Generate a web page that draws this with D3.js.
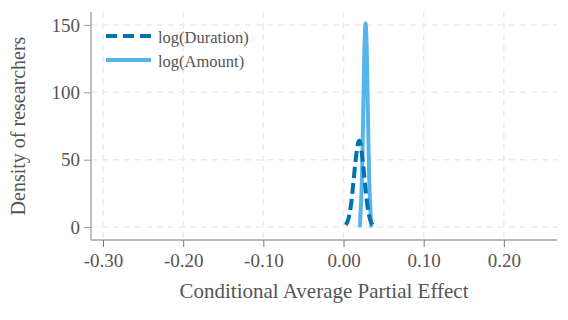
<!DOCTYPE html>
<html>
<head>
<meta charset="utf-8">
<script src="https://cdn.jsdelivr.net/npm/d3@7"></script>
<style>
  body { margin: 0; background: #fff; }
  text { font-family: "Liberation Serif", serif; fill: #555; }
</style>
</head>
<body>
<svg id="chart" width="568" height="320"></svg>
<script>
// density estimates
var durX = [0.003, 0.006, 0.009, 0.012, 0.015, 0.018, 0.0195, 0.021, 0.024, 0.027, 0.030, 0.033, 0.036];
var durY = [1.5, 6, 15, 31, 49, 62, 64, 62, 49, 31, 15, 6, 1.5];
var amtX = [0.0205, 0.0215, 0.0230, 0.0245, 0.0260, 0.0275, 0.0290, 0.0305, 0.0320, 0.0335, 0.0345];
var amtY = [1, 13, 37, 82, 130, 151, 130, 82, 37, 13, 1];
var xTicks = [-0.3, -0.2, -0.1, 0, 0.1, 0.2];
var yTicks = [0, 50, 100, 150];
var seriesNames = ["log(Duration)", "log(Amount)"];

var svg = d3.select("#chart");
var pLeft = 91, pRight = 557, pTop = 12, pBottom = 240;

var x = d3.scaleLinear().domain([-0.315, 0.2663]).range([pLeft, pRight]);
var y = d3.scaleLinear().domain([-9.6, 159.6]).range([pBottom, pTop]);

// grid
svg.append("g").selectAll("line").data(xTicks).enter().append("line")
  .attr("x1", function(d) { return x(d); }).attr("x2", function(d) { return x(d); })
  .attr("y1", pTop).attr("y2", pBottom)
  .attr("stroke", "#ebebeb").attr("stroke-width", 1.5).attr("stroke-dasharray", "6,5");
svg.append("g").selectAll("line").data(yTicks).enter().append("line")
  .attr("x1", pLeft).attr("x2", pRight)
  .attr("y1", function(d) { return y(d); }).attr("y2", function(d) { return y(d); })
  .attr("stroke", "#ebebeb").attr("stroke-width", 1.5).attr("stroke-dasharray", "6,5");

// axes
var xAxis = svg.append("g").attr("transform", "translate(0," + pBottom + ")")
  .call(d3.axisBottom(x).tickValues(xTicks).tickFormat(d3.format(".2f")).tickSize(7).tickPadding(7));
var yAxis = svg.append("g").attr("transform", "translate(" + pLeft + ",0)")
  .call(d3.axisLeft(y).tickValues(yTicks).tickSize(7).tickPadding(4));
xAxis.select(".domain").attr("d", "M" + pLeft + ",0H" + pRight).attr("stroke", "#777");
yAxis.select(".domain").attr("d", "M0," + pTop + "V" + pBottom).attr("stroke", "#aaa").attr("stroke-width", 1.5);
xAxis.selectAll(".tick line").attr("stroke", "#777");
yAxis.selectAll(".tick line").attr("stroke", "#999");
svg.selectAll(".tick text").style("font-family", "Liberation Serif, serif").style("font-size", "19px").attr("fill", "#555");
xAxis.selectAll(".tick text").text(function(d) { return d3.format(".2f")(d).replace("−", "-"); });

// curves
var line = d3.line().curve(d3.curveMonotoneX);
svg.append("path")
  .attr("d", line(amtX.map(function(d, i) { return [x(d), y(amtY[i])]; })))
  .attr("fill", "none").attr("stroke", "#56b4e9").attr("stroke-width", 4).attr("stroke-linecap", "round");
svg.append("path")
  .attr("d", line(durX.map(function(d, i) { return [x(d), y(durY[i])]; })))
  .attr("fill", "none").attr("stroke", "#0072b2").attr("stroke-width", 4)
  .attr("stroke-dasharray", "11,5");

// legend
var legend = svg.append("g");
legend.append("line").attr("x1", 106).attr("x2", 151).attr("y1", 36).attr("y2", 36)
  .attr("stroke", "#0072b2").attr("stroke-width", 4).attr("stroke-dasharray", "11,6");
legend.append("line").attr("x1", 106).attr("x2", 151).attr("y1", 60).attr("y2", 60)
  .attr("stroke", "#56b4e9").attr("stroke-width", 4);
legend.selectAll("text").data(seriesNames).enter().append("text")
  .attr("x", 158).attr("y", function(d, i) { return 43 + i * 24; })
  .style("font-size", "16.5px").text(function(d) { return d; });

// axis titles
svg.append("text").attr("x", 324).attr("y", 298)
  .attr("text-anchor", "middle").style("font-size", "21px")
  .text("Conditional Average Partial Effect");
svg.append("text").attr("transform", "translate(25," + ((pTop + pBottom) / 2) + ") rotate(-90)")
  .attr("text-anchor", "middle").style("font-size", "20px")
  .text("Density of researchers");
</script>
</body>
</html>
